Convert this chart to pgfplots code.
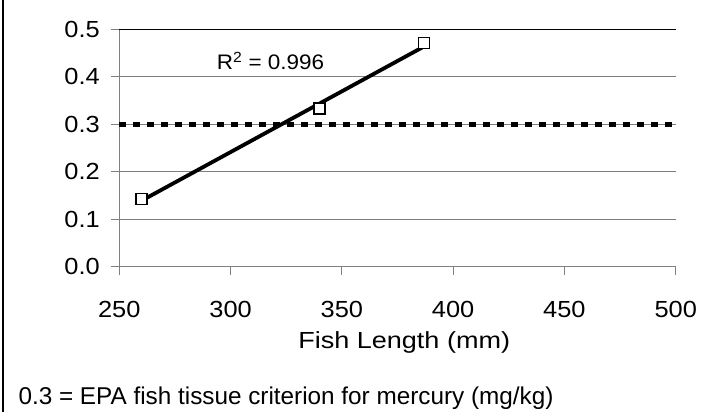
\documentclass[border=0pt]{standalone}
\usepackage{pgfplots}
\pgfplotsset{compat=1.18}
\usepackage{fontspec}
\setmainfont{Liberation Sans}
\newfontfamily\tickfont{Liberation Sans}[FakeStretch=1.09]
\newfontfamily\labfont{Liberation Sans}[FakeStretch=1.16]
\newfontfamily\rfont{Liberation Sans}[FakeStretch=1.07]
\definecolor{axgray}{RGB}{128,128,128}
\begin{document}
\begin{tikzpicture}[x=1pt,y=1pt,font=\fontsize{23}{27}\selectfont]
\useasboundingbox (0,0) rectangle (721,412);
\draw[line width=2pt] (3,0) -- (3,412);
\begin{axis}[
  at={(119.3pt,145.3pt)}, anchor=south west,
  scale only axis, width=556.4pt, height=237.4pt,
  xmin=250, xmax=500, ymin=0, ymax=0.5,
  axis x line=bottom, axis y line=left,
  axis line style={-, axgray, line width=1.3pt},
  xtick={250,300,...,500},
  ytick={0,0.1,0.2,0.3,0.4},
  extra y ticks={0.5},
  extra y tick style={grid style={black, line width=1.1pt}},
  ymajorgrids,
  grid style={axgray, line width=1.1pt},
  tick align=outside,
  major tick length=8pt,
  tick style={axgray, line width=1.1pt},
  /pgf/number format/assume math mode=true,
  ticklabel style={font=\tickfont\fontsize{23.3}{28}\selectfont},
  yticklabel style={/pgf/number format/.cd, fixed, fixed zerofill, precision=1, /tikz/.cd, xshift=-8pt},
  xticklabel style={/pgf/number format/.cd, fixed, 1000 sep={}, /tikz/.cd, yshift=-23.5pt},
  xlabel={Fish Length (mm)},
  xlabel style={font=\labfont\fontsize{23.3}{28}\selectfont, at={(axis description cs:0.5,0)}, anchor=base, yshift=-81.6pt, xshift=6.7pt, inner sep=0pt},
  clip=false,
]
\addplot[black, line width=4.8pt, dash pattern=on 6.2pt off 7.8pt]
  coordinates {(250,0.3) (500,0.3)};
\addplot[only marks, mark=square*, mark size=5.5pt,
  mark options={fill=white, draw=black, line width=1.3pt}]
  coordinates {(260,0.143) (340,0.333) (387,0.471)};
\addplot[black, line width=3.8pt]
  coordinates {(260,0.139) (387,0.464)};
\end{axis}
\node[anchor=base west, inner sep=0pt, font=\rfont\fontsize{21}{25}\selectfont] at (216.7,342) {R\textsuperscript{2} = 0.996};
\node[anchor=base west, inner sep=0pt, font=\fontsize{24.3}{29}\selectfont] at (18.3,7.7) {0.3 = EPA fish tissue criterion for mercury (mg/kg)};
\end{tikzpicture}
\end{document}
